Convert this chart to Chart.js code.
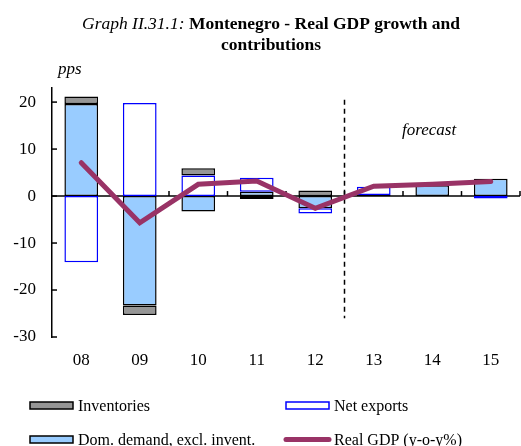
<!DOCTYPE html>
<html>
<head>
<meta charset="utf-8">
<title>Montenegro - Real GDP growth and contributions</title>
<script src="https://cdn.jsdelivr.net/npm/chart.js@4/dist/chart.umd.min.js"></script>
<style>
  html, body { margin: 0; padding: 0; background: #fff; }
  canvas { display: block; }
</style>
</head>
<body>
<canvas id="grafico" width="521" height="446"></canvas>
<script>
// Anos e contribuições (pps)
const anos = ['08', '09', '10', '11', '12', '13', '14', '15'];
const demandaInterna = [19.6, -23.3, -3.3, 0.9, -2.6, 0.2, 2.3, 3.7];
const exportacoesLiquidas = [-14.1, 19.8, 4.4, 3.0, -1.1, 1.8, 0.0, -0.5];
const estoques = [1.6, -2.0, 1.5, -0.6, 1.2, 0.0, 0.1, 0.0];
const pibReal = [7.1, -5.7, 2.5, 3.2, -2.6, 2.1, 2.5, 3.1];
const ticksY = [-30, -20, -10, 0, 10, 20];
const inicioPrevisao = 5; // primeiro ano de previsão (13)

const fonte = '"Liberation Serif", "Times New Roman", serif';
const cores = {
  demanda: '#99CCFF',
  estoques: '#969696',
  exportacoes: '#0000FF',
  pib: '#993366'
};

function linha(ctx, x1, y1, x2, y2) {
  ctx.beginPath();
  ctx.moveTo(x1, y1);
  ctx.lineTo(x2, y2);
  ctx.stroke();
}

// Eixo zero, marcas dos eixos e linha de previsão
const eixosPlugin = {
  id: 'eixos',
  beforeDatasetsDraw(chart) {
    const { ctx, chartArea } = chart;
    const x = chart.scales.x;
    const y = chart.scales.y;
    const y0 = y.getPixelForValue(0);
    const passo = x.getPixelForValue(1) - x.getPixelForValue(0);

    ctx.save();
    ctx.strokeStyle = '#000';
    ctx.lineWidth = 1.5;
    linha(ctx, chartArea.left, y0, chartArea.right, y0);

    // marcas entre as categorias, para cima
    for (let i = 0; i < anos.length; i++) {
      const xb = x.getPixelForValue(i) + passo / 2;
      linha(ctx, xb, y0, xb, y0 - 5);
    }
    // marcas do eixo y, para dentro
    ticksY.forEach(v => {
      const yy = y.getPixelForValue(v);
      linha(ctx, chartArea.left, yy, chartArea.left + 5, yy);
    });

    // separação entre dados e previsão
    const xp = x.getPixelForValue(inicioPrevisao) - passo / 2;
    ctx.setLineDash([5, 4]);
    linha(ctx, xp, y.getPixelForValue(20.5), xp, y.getPixelForValue(-26));
    ctx.restore();
  },
  afterDraw(chart) {
    const ctx = chart.ctx;
    ctx.save();
    ctx.fillStyle = '#000';
    ctx.textBaseline = 'alphabetic';

    // título
    const parte1 = 'Graph II.31.1: ';
    const parte2 = 'Montenegro - Real GDP growth and';
    ctx.font = 'italic 17.5px ' + fonte;
    const w1 = ctx.measureText(parte1).width;
    ctx.font = 'bold 17.5px ' + fonte;
    const w2 = ctx.measureText(parte2).width;
    let xt = 271 - (w1 + w2) / 2;
    ctx.font = 'italic 17.5px ' + fonte;
    ctx.textAlign = 'left';
    ctx.fillText(parte1, xt, 29);
    ctx.font = 'bold 17.5px ' + fonte;
    ctx.fillText(parte2, xt + w1, 29);
    ctx.textAlign = 'center';
    ctx.fillText('contributions', 271, 50);

    // textos do gráfico
    ctx.textAlign = 'left';
    ctx.font = 'italic 17px ' + fonte;
    ctx.fillText('pps', 58, 74);
    ctx.fillText('forecast', 402, 135);

    // legenda
    ctx.font = '16px ' + fonte;
    ctx.textBaseline = 'middle';
    const itens = chart.data.datasets;
    const posicoes = [[30, 439.5], [286, 405.5], [30, 405.5], [286, 439.5]];
    itens.forEach((ds, i) => {
      const [lx, ly] = posicoes[i];
      if (ds.type === 'line') {
        ctx.strokeStyle = ds.borderColor;
        ctx.lineWidth = 5;
        ctx.lineCap = 'round';
        linha(ctx, lx, ly, lx + 43, ly);
        ctx.lineCap = 'butt';
      } else {
        ctx.fillStyle = ds.backgroundColor;
        ctx.fillRect(lx, ly - 3.5, 43, 7);
        ctx.strokeStyle = ds.borderColor;
        ctx.lineWidth = 1.5;
        ctx.strokeRect(lx, ly - 3.5, 43, 7);
      }
      ctx.fillStyle = '#000';
      ctx.fillText(ds.label, lx + 48, ly + 1);
    });
    ctx.restore();
  }
};

const ctx = document.getElementById('grafico').getContext('2d');
new Chart(ctx, {
  data: {
    labels: anos,
    datasets: [
      {
        type: 'bar',
        label: 'Dom. demand, excl. invent.',
        data: demandaInterna,
        backgroundColor: cores.demanda,
        borderColor: '#000',
        borderWidth: 1.5,
        borderSkipped: false,
        order: 1
      },
      {
        type: 'bar',
        label: 'Net exports',
        data: exportacoesLiquidas,
        backgroundColor: '#FFFFFF',
        borderColor: cores.exportacoes,
        borderWidth: 1.5,
        borderSkipped: false,
        order: 1
      },
      {
        type: 'bar',
        label: 'Inventories',
        data: estoques,
        backgroundColor: cores.estoques,
        borderColor: '#000',
        borderWidth: 1.5,
        borderSkipped: false,
        order: 1
      },
      {
        type: 'line',
        label: 'Real GDP (y-o-y%)',
        data: pibReal,
        borderColor: cores.pib,
        borderWidth: 5,
        borderCapStyle: 'round',
        borderJoinStyle: 'miter',
        pointRadius: 0,
        tension: 0,
        stack: 'pib',
        order: 0
      }
    ]
  },
  options: {
    responsive: false,
    animation: false,
    layout: { padding: { top: 88, right: 1, left: 0, bottom: 0 } },
    datasets: {
      bar: { categoryPercentage: 1, barPercentage: 0.576 }
    },
    plugins: {
      legend: { display: false },
      title: { display: false },
      tooltip: { enabled: false }
    },
    scales: {
      x: {
        stacked: true,
        grid: { display: false, drawTicks: false },
        border: { display: false },
        ticks: {
          color: '#000',
          font: { family: fonte, size: 17 },
          padding: 13,
          maxRotation: 0
        },
        afterFit(scale) { scale.height = 109; }
      },
      y: {
        stacked: true,
        min: -30,
        max: 23,
        grid: { display: false, drawTicks: false },
        border: { display: true, color: '#000', width: 1.5 },
        ticks: {
          stepSize: 10,
          includeBounds: false,
          color: '#000',
          font: { family: fonte, size: 17 },
          padding: 16
        },
        afterFit(scale) { scale.width = 52; }
      }
    }
  },
  plugins: [eixosPlugin]
});
</script>
</body>
</html>
